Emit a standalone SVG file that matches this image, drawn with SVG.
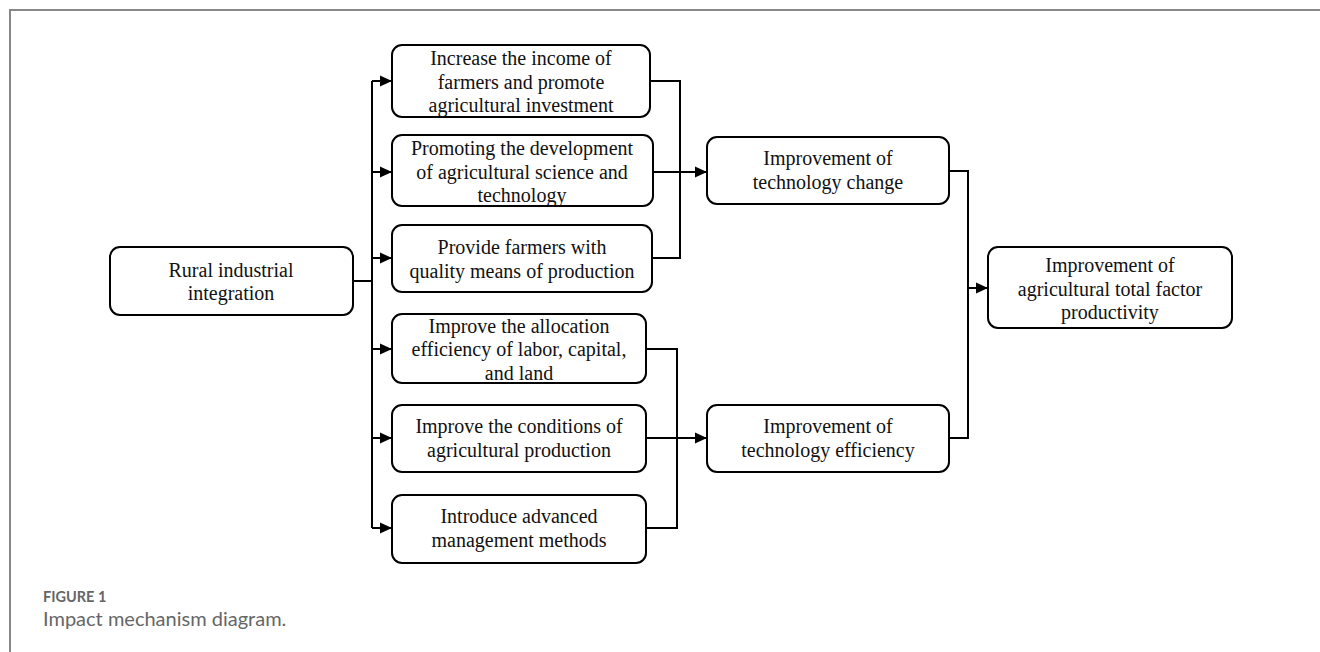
<svg xmlns="http://www.w3.org/2000/svg" width="1320" height="652" viewBox="0 0 1320 652">
<defs>
<marker id="arr" markerWidth="13" markerHeight="13" refX="12" refY="6.5" orient="auto" markerUnits="userSpaceOnUse">
<path d="M0,1 L12,6.5 L0,12 Z" fill="#000"/>
</marker>
<style>
.box{fill:#fff;stroke:#000;stroke-width:2}
.t{font-family:"Liberation Serif","Times New Roman",serif;font-size:20px;fill:#111;text-anchor:middle}
.c{fill:none;stroke:#000;stroke-width:2}
.a{fill:none;stroke:#000;stroke-width:2;marker-end:url(#arr)}
.cap1{font-family:Lato,"Open Sans",sans-serif;font-size:14.5px;font-weight:bold;fill:#666}
.cap2{font-family:Lato,"Open Sans",sans-serif;font-size:20px;fill:#666}
</style>
</defs>
<rect width="1320" height="652" fill="#fff"/>
<path d="M1320,10 H10 V652" fill="none" stroke="#888" stroke-width="2"/>

<g id="connectors">
<path class="c" d="M353,281 H372"/>
<path class="c" d="M372,81 V528"/>
<path class="a" d="M372,81 H392"/>
<path class="a" d="M372,172 H392"/>
<path class="a" d="M372,258 H392"/>
<path class="a" d="M372,349 H392"/>
<path class="a" d="M372,438 H392"/>
<path class="a" d="M372,528 H392"/>
<path class="c" d="M650,81 H680 V258 H652"/>
<path class="a" d="M652,172 H707"/>
<path class="c" d="M646,349 H677 V528 H646"/>
<path class="a" d="M646,438 H707"/>
<path class="c" d="M949,171 H968 V438 H949"/>
<path class="a" d="M968,288 H988"/>
</g>

<g id="rural">
<rect class="box" x="110" y="247" width="243" height="68" rx="10"/>
<text class="t" x="231" y="277">Rural industrial</text>
<text class="t" x="231" y="300">integration</text>
</g>

<g id="n1">
<rect class="box" x="392" y="45" width="258" height="72" rx="10"/>
<text class="t" x="521" y="65">Increase the income of</text>
<text class="t" x="521" y="89">farmers and promote</text>
<text class="t" x="521" y="112">agricultural investment</text>
</g>

<g id="n2">
<rect class="box" x="392" y="135" width="261" height="71" rx="10"/>
<text class="t" x="522" y="155">Promoting the development</text>
<text class="t" x="522" y="179">of agricultural science and</text>
<text class="t" x="522" y="202">technology</text>
</g>

<g id="n3">
<rect class="box" x="392" y="225" width="260" height="67" rx="10"/>
<text class="t" x="522" y="254">Provide farmers with</text>
<text class="t" x="522" y="278">quality means of production</text>
</g>

<g id="n4">
<rect class="box" x="392" y="314" width="254" height="69" rx="10"/>
<text class="t" x="519" y="333">Improve the allocation</text>
<text class="t" x="519" y="356">efficiency of labor, capital,</text>
<text class="t" x="519" y="380">and land</text>
</g>

<g id="n5">
<rect class="box" x="392" y="405" width="254" height="67" rx="10"/>
<text class="t" x="519" y="433">Improve the conditions of</text>
<text class="t" x="519" y="457">agricultural production</text>
</g>

<g id="n6">
<rect class="box" x="392" y="495" width="254" height="68" rx="10"/>
<text class="t" x="519" y="523">Introduce advanced</text>
<text class="t" x="519" y="547">management methods</text>
</g>

<g id="techchange">
<rect class="box" x="707" y="137" width="242" height="67" rx="10"/>
<text class="t" x="828" y="165">Improvement of</text>
<text class="t" x="828" y="189">technology change</text>
</g>

<g id="techeff">
<rect class="box" x="707" y="405" width="242" height="67" rx="10"/>
<text class="t" x="828" y="433">Improvement of</text>
<text class="t" x="828" y="457">technology efficiency</text>
</g>

<g id="tfp">
<rect class="box" x="988" y="247" width="244" height="81" rx="10"/>
<text class="t" x="1110" y="272">Improvement of</text>
<text class="t" x="1110" y="296">agricultural total factor</text>
<text class="t" x="1110" y="319">productivity</text>
</g>

<text class="cap1" x="43" y="602">FIGURE 1</text>
<text class="cap2" x="43" y="626">Impact mechanism diagram.</text>
</svg>
